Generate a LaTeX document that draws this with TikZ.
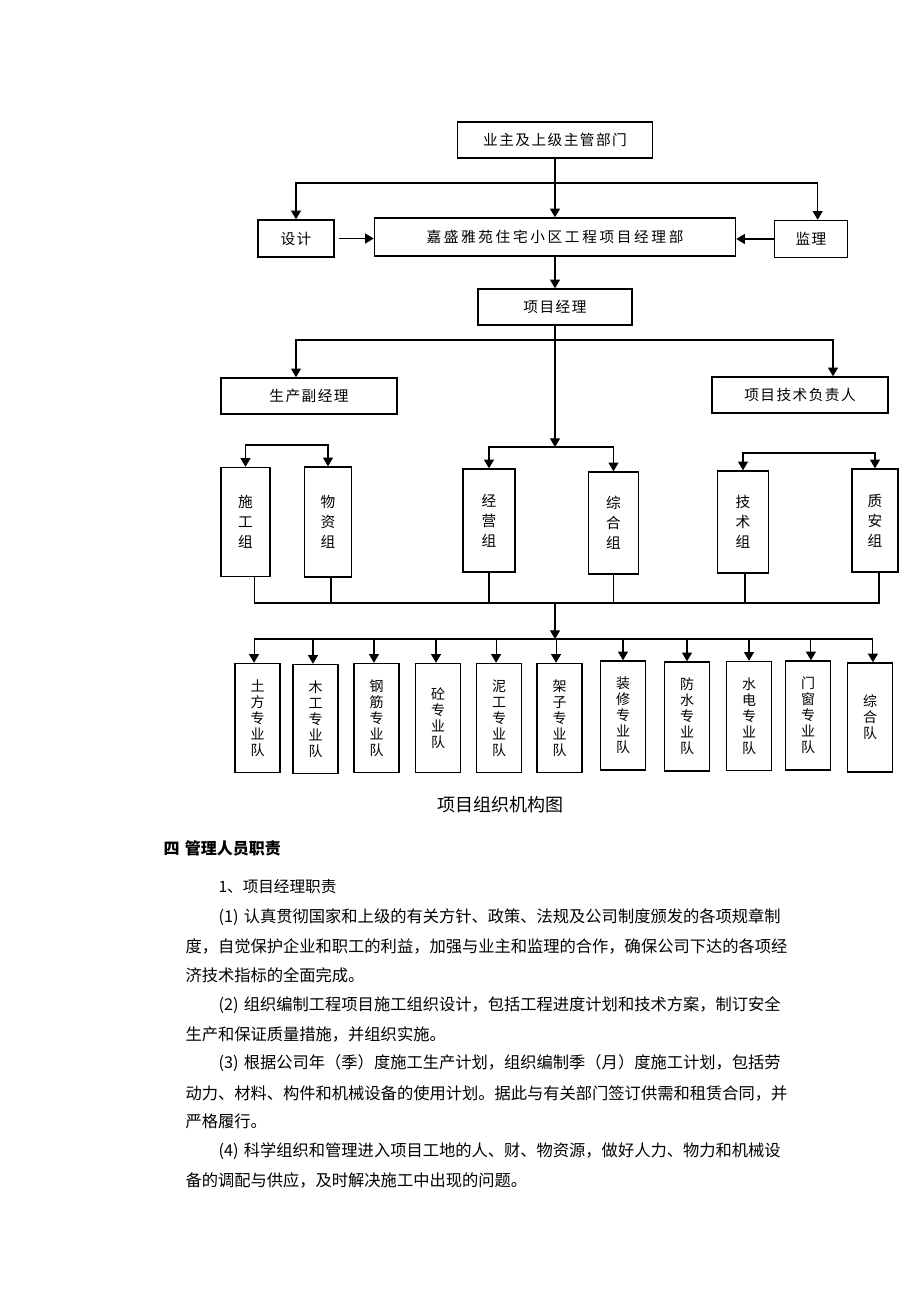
\documentclass[tikz,border=0pt]{standalone}
\usepackage{fontspec}
\setmainfont{Noto Sans CJK SC}
\newfontfamily\boxfont[LetterSpace=10]{Noto Sans CJK SC}
\newfontfamily\widefont[LetterSpace=18]{Noto Sans CJK SC}
\usetikzlibrary{arrows.meta}
\tikzset{
	boxsize/.style 2 args={minimum width=#1*0.75pt,minimum height=#2*0.75pt},
	box/.style={draw,line width=1.1pt,inner sep=0pt,font=\boxfont\fontsize{11pt}{13pt}\selectfont},
	grp/.style={draw,line width=1.1pt,inner sep=0pt,align=center,font=\fontsize{11pt}{15pt}\selectfont},
	team/.style={draw,line width=1.1pt,inner sep=0pt,align=center,boxsize={45}{109},font=\fontsize{10.5pt}{12pt}\selectfont},
	txt/.style={anchor=west,inner sep=0pt,font=\fontsize{12.2pt}{14pt}\selectfont}
}

\begin{document}
\begin{tikzpicture}[x=0.75pt,y=-0.75pt,line width=0.8pt,>/.tip={Triangle[length=6.5pt,width=7.5pt]}]
	\useasboundingbox (0,0) rectangle (920,1302);

	\draw (555,140) node (owner) [box,boxsize={195}{36}] {业主及上级主管部门};
	\draw (296,238.5) node (design) [box,boxsize={76}{37}] {设计};
	\draw (555,237) node (dept) [box,boxsize={361}{38},font=\widefont\fontsize{11pt}{13pt}\selectfont] {嘉盛雅苑住宅小区工程项目经理部};
	\draw (811,239) node (super) [box,boxsize={73}{37}] {监理};
	\draw (555,307) node (pm) [box,boxsize={154}{36}] {项目经理};
	\draw (309,396) node (vice) [box,boxsize={176}{36}] {生产副经理};
	\draw (800,395) node (tech) [box,boxsize={176}{36}] {项目技术负责人};

	\draw (245.5,522) node (sg) [grp,boxsize={49}{109}] {施\\工\\组};
	\draw (328,522) node (wz) [grp,boxsize={47}{110}] {物\\资\\组};
	\draw (489,520.5) node (jy) [grp,boxsize={52}{103}] {经\\营\\组};
	\draw (613.5,523) node (zh) [grp,boxsize={50}{102}] {综\\合\\组};
	\draw (743,522) node (js) [grp,boxsize={51}{102}] {技\\术\\组};
	\draw (875,520.5) node (za) [grp,boxsize={46}{103}] {质\\安\\组};

	\draw (257.5,718) node (t1) [team] {土\\方\\专\\业\\队};
	\draw (315.5,719) node (t2) [team] {木\\工\\专\\业\\队};
	\draw (376.5,718) node (t3) [team] {钢\\筋\\专\\业\\队};
	\draw (438,718) node (t4) [team] {砼\\专\\业\\队};
	\draw (499,718) node (t5) [team] {泥\\工\\专\\业\\队};
	\draw (559.5,718) node (t6) [team] {架\\子\\专\\业\\队};
	\draw (623,715.5) node (t7) [team] {装\\修\\专\\业\\队};
	\draw (687,716.5) node (t8) [team] {防\\水\\专\\业\\队};
	\draw (749,716) node (t9) [team] {水\\电\\专\\业\\队};
	\draw (808,715.5) node (t10) [team] {门\\窗\\专\\业\\队};
	\draw (870,717.5) node (t11) [team] {综\\合\\队};

	\coordinate (topfork) at (555,183);
	\coordinate (pmfork) at (555,340);
	\coordinate (midfork) at (555,447);
	\coordinate (leftfork) at (287,445);
	\coordinate (rightfork) at (809,453);
	\coordinate (bar) at (555,603);
	\coordinate (teamfork) at (555,639);

	\draw[->] (owner) -- (dept);
	\draw[->] (topfork) -| (design.north);
	\draw[->] (topfork) -| ([xshift=5pt]super.north);
	\draw[->] ([xshift=3pt]design.east) -- (design.east -| dept.west);
	\draw[->] (super.west) -- (super.west -| dept.east);
	\draw[->] (dept) -- (pm);
	\draw[->] (pm.south) -- (midfork);
	\draw[->] (pmfork) -| ([xshift=-9.75pt]vice.north);
	\draw[->] (pmfork) -| ([xshift=24.75pt]tech.north);
	\draw[->] (midfork) -| (jy.north);
	\draw[->] (midfork) -| (zh.north);
	\draw[->] (leftfork) -| (sg.north);
	\draw[->] (leftfork) -| (wz.north);
	\draw[->] (rightfork) -| (js.north);
	\draw[->] (rightfork) -| (za.north);

	\draw ([xshift=6.4pt]sg.south) |- (bar);
	\draw ([xshift=2.25pt]wz.south) |- (bar);
	\draw (jy.south) |- (bar);
	\draw (zh.south) |- (bar);
	\draw ([xshift=1.5pt]js.south) |- (bar);
	\draw ([xshift=3pt]za.south) |- (bar);
	\draw[->] (bar) -- (teamfork);
	\draw[->] (teamfork) -| ([xshift=-2.6pt]t1.north);
	\draw[->] (teamfork) -| ([xshift=-1.9pt]t2.north);
	\draw[->] (teamfork) -| ([xshift=-1.9pt]t3.north);
	\draw[->] (teamfork) -| ([xshift=-1.5pt]t4.north);
	\draw[->] (teamfork) -| ([xshift=-2.2pt]t5.north);
	\draw[->] (teamfork) -| ([xshift=-2.6pt]t6.north);
	\draw[->] (teamfork) -| (t7.north);
	\draw[->] (teamfork) -| (t8.north);
	\draw[->] (teamfork) -| (t9.north);
	\draw[->] (teamfork) -| ([xshift=2.2pt]t10.north);
	\draw[->] (teamfork) -| ([xshift=2.2pt]t11.north);

	\draw (500,805) node (caption) [font=\fontsize{13.5pt}{16pt}\selectfont] {项目组织机构图};
	\draw (163,848) node (sec) [txt,font=\bfseries\fontsize{12pt}{14pt}\selectfont] {四\hspace{4pt}管理人员职责};
	\draw (218,887) node (sub) [txt,font=\fontsize{11.7pt}{14pt}\selectfont] {1、项目经理职责};
	\draw (218,917) node (p1a) [txt] {(1)\hspace{4pt}认真贯彻国家和上级的有关方针、政策、法规及公司制度颁发的各项规章制};
	\draw (185,946) node (p1b) [txt] {度，自觉保护企业和职工的利益，加强与业主和监理的合作，确保公司下达的各项经};
	\draw (185,975) node (p1c) [txt] {济技术指标的全面完成。};
	\draw (218,1005) node (p2a) [txt] {(2)\hspace{4pt}组织编制工程项目施工组织设计，包括工程进度计划和技术方案，制订安全};
	\draw (185,1034) node (p2b) [txt] {生产和保证质量措施，并组织实施。};
	\draw (218,1063) node (p3a) [txt] {(3)\hspace{4pt}根据公司年（季）度施工生产计划，组织编制季（月）度施工计划，包括劳};
	\draw (185,1093) node (p3b) [txt] {动力、材料、构件和机械设备的使用计划。据此与有关部门签订供需和租赁合同，并};
	\draw (185,1121) node (p3c) [txt] {严格履行。};
	\draw (218,1151) node (p4a) [txt] {(4)\hspace{4pt}科学组织和管理进入项目工地的人、财、物资源，做好人力、物力和机械设};
	\draw (185,1180) node (p4b) [txt] {备的调配与供应，及时解决施工中出现的问题。};
\end{tikzpicture}
\end{document}
